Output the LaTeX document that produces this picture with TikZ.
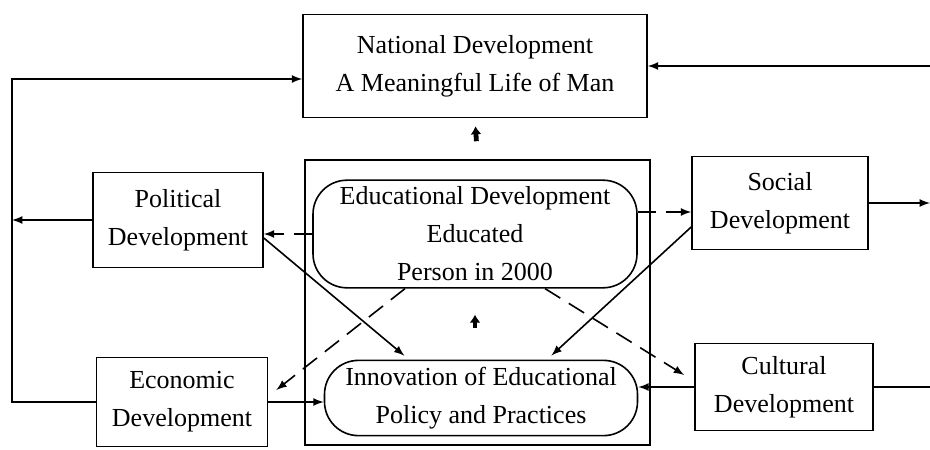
\documentclass[tikz,border=0pt]{standalone}
\usepackage{fontspec}
\setmainfont{Liberation Serif}
\usepackage{tikz}
\usepackage{xcolor}
\usetikzlibrary{shapes.geometric, positioning, arrows, arrows.meta}

\begin{document}
\begin{tikzpicture}[x=0.5pt,y=-0.5pt,
  box/.style={draw, line width=0.8pt, align=center, font=\fontsize{13}{19}\selectfont},
  pill/.style={box, rounded corners=17pt},
  link/.style={line width=0.8pt, -latex},
  dlink/.style={link, dash pattern=on 9pt off 5pt},
  uparrow/.style={line width=2.4pt, -{Latex[length=4pt,width=5.5pt]}}]
\useasboundingbox (0,0) rectangle (930,449);
% outer frame round the education boxes
\node[draw, line width=0.8pt, minimum width=172.5pt, minimum height=142.5pt] (core) at (477.5,302.5) {};
\node[box, minimum width=172pt, minimum height=51.5pt] (nat) at (475,66) {National Development\\A Meaningful Life of Man};
\node[box, minimum width=85pt, minimum height=47.5pt] (pol) at (178,220) {Political\\Development};
\node[box, minimum width=85.5pt, minimum height=44.5pt] (eco) at (182,402) {Economic\\Development};
\node[box, minimum width=88pt, minimum height=46.5pt] (soc) at (780,203) {Social\\Development};
\node[box, minimum width=89pt, minimum height=43.5pt] (cul) at (784,387) {Cultural\\Development};
\node[pill, minimum width=162pt, minimum height=52.5pt] (edu) at (475,234) {Educational Development\\Educated\\Person in 2000};
\node[pill, minimum width=156.5pt, minimum height=35pt] (inn) at (481,398) {Innovation of Educational\\Policy and Practices};

\coordinate (lt) at (12,79);
\coordinate (rt) at (930,58);
\draw[link] (eco.west) -| (lt) -- (nat.west |- lt);
\draw[link] (pol.west) -- (pol.west -| lt);
\draw[link] (nat.east -| rt) -- (nat.east);
\draw[link] (soc.east) -- (soc.east -| rt);
\draw[line width=0.8pt] (cul.east) -- (cul.east -| rt);

\draw[uparrow, shorten <=9pt, shorten >=4pt] (core.north) -- (nat.south);
\draw[uparrow, shorten <=16pt, shorten >=13pt] (edu.south |- inn.north) -- (edu.south);

\path ([yshift=11pt]edu.east) coordinate (e1);
\draw[dlink] (edu.west) -- (edu.west -| pol.east);
\draw[dlink] (e1) -- (e1 -| soc.west);
\draw[dlink] ([xshift=-35pt]edu.south) -- ([shift={(4pt,6pt)}]eco.east);
\draw[dlink] ([xshift=35pt]edu.south) -- ([shift={(-5pt,6pt)}]cul.west);

\draw[link, shorten >=3pt] ([yshift=-9pt]pol.east) -- ([xshift=-36pt]inn.north);
\draw[link, shorten >=3pt] ([yshift=-12pt]soc.west) -- ([xshift=33pt]inn.north);
\draw[link] (eco.east) -- (eco.east -| inn.west);
\draw[link] (cul.west) -- (cul.west -| inn.east);
\end{tikzpicture}
\end{document}
